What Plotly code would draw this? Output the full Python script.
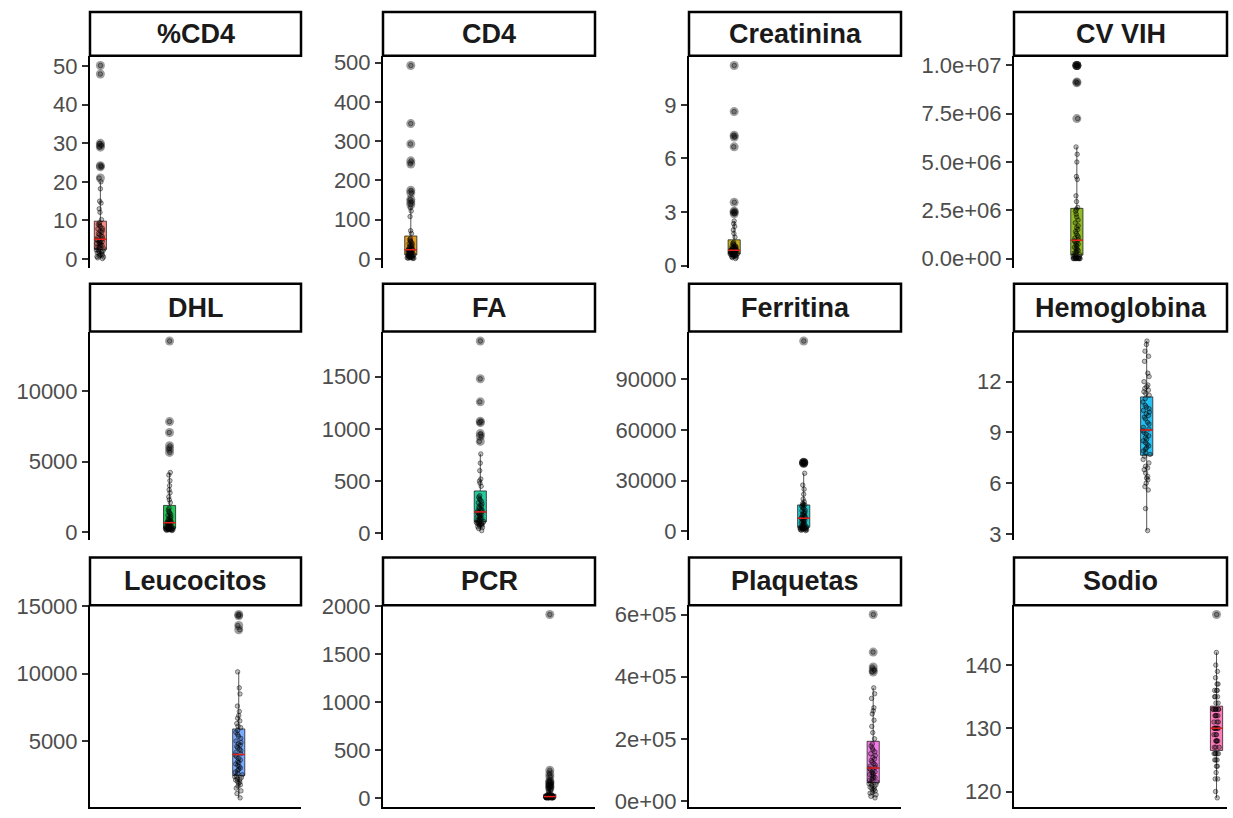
import numpy as np
import plotly.graph_objects as go

# ---------------- data ----------------
panel_names = ["%CD4", "CD4", "Creatinina", "CV VIH", "DHL", "FA",
               "Ferritina", "Hemoglobina", "Leucocitos", "PCR", "Plaquetas", "Sodio"]

cd4_pct = [0.1, 0.3, 0.5, 0.6, 0.8, 1.0, 1.1, 1.3, 1.5, 1.6, 1.8, 2.0, 2.1, 2.3, 2.4,
           2.6, 2.8, 3.0, 3.2, 3.4, 3.5, 3.7, 3.9, 4.0, 4.2, 4.4, 4.5, 4.7, 4.8, 5.0,
           5.2, 5.5, 5.8, 6.0, 6.3, 6.6, 7.0, 7.2, 7.5, 7.8, 8.0, 8.4, 8.8, 9.0, 9.4,
           10.2, 12.1, 13.0, 14.5, 15.0, 18.2, 20.0, 21.0, 23.9, 24.2, 29.0, 29.5, 30.0, 48.0, 50.2]
cd4 = [1, 2, 2, 3, 3, 4, 4, 5, 5, 6, 7, 7, 8, 9, 10,
       11, 12, 13, 14, 14, 15, 16, 17, 18, 18, 19, 20, 21, 22, 23,
       24, 25, 27, 28, 30, 31, 33, 35, 37, 39, 41, 44, 46, 49, 52,
       65, 72, 108, 122, 130, 138, 145, 152, 168, 175, 242, 250, 293, 345, 493]
creatinina = [0.40, 0.45, 0.48, 0.50, 0.52, 0.55, 0.57, 0.58, 0.60, 0.61, 0.62, 0.63, 0.64, 0.65, 0.66,
              0.68, 0.70, 0.71, 0.73, 0.74, 0.75, 0.77, 0.78, 0.80, 0.81, 0.82, 0.83, 0.84, 0.85, 0.86,
              0.88, 0.90, 0.92, 0.94, 0.96, 0.98, 1.00, 1.03, 1.05, 1.08, 1.10, 1.15, 1.20, 1.25, 1.30,
              1.60, 1.80, 2.00, 2.20, 2.35, 2.50, 2.90, 3.00, 3.05, 3.55, 6.65, 7.20, 7.30, 8.62, 11.2]
cv_vih = [20, 40, 50, 80, 150, 400, 1000, 5000, 12000, 25000, 40000, 60000, 90000, 120000, 160000,
          200000, 240000, 280000, 330000, 380000, 420000, 480000, 530000, 590000, 640000,
          700000, 750000, 810000, 860000, 920000,
          980000, 1050000, 1120000, 1200000, 1300000, 1400000, 1500000, 1600000, 1700000,
          1850000, 2000000, 2150000, 2300000, 2450000, 2550000,
          2650000, 2950000, 3250000, 4100000, 4250000, 5000000, 5400000, 5780000, 7250000,
          9100000, 9150000, 10000000, 10000000, 10000000, 10000000]
dhl = [120, 140, 160, 170, 180, 190, 200, 210, 220, 230, 240, 250, 260, 270, 280,
       300, 320, 340, 360, 380, 400, 430, 460, 490, 520, 550, 580, 610, 640, 660,
       690, 730, 770, 820, 870, 920, 980, 1050, 1120, 1200, 1280, 1370, 1460, 1580, 1700,
       2100, 2300, 2500, 2800, 3000, 3300, 3650, 4050, 4230, 5650, 5900, 6120, 7060, 7830, 13530]
fa = [25, 45, 55, 62, 70, 75, 80, 85, 88, 92, 95, 98, 100, 104, 108,
      112, 118, 124, 130, 136, 142, 148, 155, 162, 168, 175, 182, 188, 195, 200,
      208, 215, 222, 230, 240, 250, 260, 270, 280, 292, 305, 318, 330, 345, 360,
      450, 480, 500, 520, 600, 672, 760, 880, 930, 955, 1060, 1074, 1260, 1481, 1843]
ferritina = [500, 700, 900, 1100, 1200, 1400, 1500, 1600, 1700, 1800, 1900, 2000, 2100, 2200, 2350,
             2600, 2900, 3200, 3500, 3900, 4200, 4600, 5000, 5400, 5800, 6200, 6600, 7000, 7300, 7650,
             8000, 8400, 8800, 9200, 9600, 10000, 10500, 11000, 11600, 12200, 12800, 13500, 14200,
             14900, 15500,
             15800, 16000, 16500, 17500, 19100, 22000, 25000, 27400, 34400, 40200, 40500, 40700,
             40800, 41000, 112650]
hemoglobina = [3.2, 4.5, 5.6, 5.8, 6.0, 6.2, 6.3, 6.4, 6.6, 6.8, 6.9, 7.0, 7.2, 7.4, 7.6, 7.7,
               7.8, 7.9, 8.0, 8.1, 8.2, 8.3, 8.4, 8.5, 8.6, 8.7, 8.8, 8.9, 9.0, 9.1, 9.2,
               9.3, 9.5, 9.6, 9.8, 9.9, 10.0, 10.1, 10.2, 10.3, 10.4, 10.5, 10.6, 10.8, 11.0, 11.2,
               11.3, 11.4, 11.5, 11.6, 11.7, 11.8, 12.0, 12.3, 12.5, 13.2, 13.5, 13.8, 14.2, 14.4]
leucocitos = [780, 1100, 1300, 1500, 1650, 1750, 1850, 1950, 2000, 2100, 2150, 2200, 2300, 2350, 2400,
              2500, 2600, 2700, 2800, 2900, 3000, 3100, 3200, 3300, 3400, 3500, 3600, 3700, 3850, 3950,
              4050, 4150, 4300, 4400, 4500, 4600, 4700, 4800, 4900, 5000, 5200, 5350, 5500, 5650, 5800,
              6000, 6100, 6300, 6500, 6700, 6900, 7200, 7600, 8500, 8950, 10140, 13270, 13580, 14300, 14400]
pcr = [0.5, 0.8, 1.0, 1.2, 1.5, 1.8, 2.0, 2.2, 2.5, 2.8, 3.0, 3.2, 3.5, 3.8, 4.0,
       4.5, 5.0, 5.5, 6.0, 6.5, 7.0, 7.5, 8.0, 8.5, 9.0, 9.5, 10, 11, 12, 13,
       14, 15, 16, 17, 18, 19, 20, 21, 22, 24, 26, 28, 30, 32, 35,
       40, 52, 65, 80, 95, 110, 120, 135, 150, 170, 175, 220, 250, 290, 1916]
plaquetas = [10000, 15000, 20000, 25000, 28000, 32000, 35000, 38000, 41000, 44000, 47000, 50000,
             52000, 55000, 58000,
             61000, 64000, 67000, 70000, 73000, 76000, 79000, 82000, 85000, 88000, 91000, 94000,
             97000, 100000, 104000,
             108000, 112000, 116000, 120000, 125000, 130000, 135000, 140000, 146000, 152000, 158000,
             164000, 170000, 177000, 184000,
             200000, 220000, 240000, 260000, 280000, 290000, 300000, 330000, 345000, 364000,
             415000, 421000, 431000, 479000, 600000]
sodio = [119, 120, 122, 122, 123, 124, 124, 125, 125, 125, 126, 126, 126, 126, 126,
         127, 127, 127, 128, 128, 128, 128, 129, 129, 129, 130, 130, 130, 130, 130,
         130, 131, 131, 131, 132, 132, 132, 132, 133, 133, 133, 133, 133, 133, 133,
         134, 134, 135, 135, 135, 136, 136, 136, 137, 137, 138, 139, 140, 142, 148]

panel_values = [cd4_pct, cd4, creatinina, cv_vih, dhl, fa,
                ferritina, hemoglobina, leucocitos, pcr, plaquetas, sodio]

tick_vals = [
    [0, 10, 20, 30, 40, 50],
    [0, 100, 200, 300, 400, 500],
    [0, 3, 6, 9],
    [0, 2.5e6, 5e6, 7.5e6, 1e7],
    [0, 5000, 10000],
    [0, 500, 1000, 1500],
    [0, 30000, 60000, 90000],
    [3, 6, 9, 12],
    [5000, 10000, 15000],
    [0, 500, 1000, 1500, 2000],
    [0, 2e5, 4e5, 6e5],
    [120, 130, 140],
]
tick_text = [
    ["0", "10", "20", "30", "40", "50"],
    ["0", "100", "200", "300", "400", "500"],
    ["0", "3", "6", "9"],
    ["0.0e+00", "2.5e+06", "5.0e+06", "7.5e+06", "1.0e+07"],
    ["0", "5000", "10000"],
    ["0", "500", "1000", "1500"],
    ["0", "30000", "60000", "90000"],
    ["3", "6", "9", "12"],
    ["5000", "10000", "15000"],
    ["0", "500", "1000", "1500", "2000"],
    ["0e+00", "2e+05", "4e+05", "6e+05"],
    ["120", "130", "140"],
]

hue_colors = ["#F8766D", "#DE8C00", "#B79F00", "#7CAE00", "#00BA38", "#00C08B",
              "#00BFC4", "#00B4F0", "#619CFF", "#C77CFF", "#F564E3", "#FF64B0"]

# ---------------- layout geometry (pixels) ----------------
W, H = 1233, 818
col_left = [90, 383, 689, 1014]
col_right = [301, 595, 901, 1227]
strip_top = [1, 280, 561]
strip_bot = [46, 329, 610]
panel_bot = [264, 543, 817]
BOX_W = 0.7
FONT = "Liberation Sans, Arial, sans-serif"


def hex_rgba(h, a):
    h = h.lstrip("#")
    return "rgba(%d,%d,%d,%.2f)" % (int(h[0:2], 16), int(h[2:4], 16), int(h[4:6], 16), a)


fig = go.Figure()
shapes = []
annotations = []
layout_axes = {}

for i, (name, vals) in enumerate(zip(panel_names, panel_values)):
    r, c = divmod(i, 4)
    n = i + 1
    xa = "x" if n == 1 else "x%d" % n
    ya = "y" if n == 1 else "y%d" % n
    pos = i + 1
    v = np.array(vals, dtype=float)

    fig.add_trace(go.Box(
        y=v, x0=pos, width=BOX_W, xaxis=xa, yaxis=ya,
        boxpoints="outliers", whiskerwidth=0, quartilemethod="inclusive",
        fillcolor=hex_rgba(hue_colors[i], 0.85),
        line=dict(color="rgba(20,20,20,0.9)", width=0.8),
        marker=dict(color="rgba(0,0,0,0.38)", size=9, line=dict(width=0)),
        showlegend=False, hoverinfo="skip"))
    med = float(np.median(v))
    fig.add_trace(go.Scatter(
        x=[pos - BOX_W / 2, pos + BOX_W / 2], y=[med, med], mode="lines",
        line=dict(color="#E8201A", width=1.5), xaxis=xa, yaxis=ya,
        showlegend=False, hoverinfo="skip"))
    fig.add_trace(go.Box(
        y=v, x0=pos, width=BOX_W, xaxis=xa, yaxis=ya,
        boxpoints="all", jitter=0.7, pointpos=0,
        fillcolor="rgba(0,0,0,0)", line=dict(color="rgba(0,0,0,0)", width=0),
        marker=dict(color="rgba(0,0,0,0.25)", size=4.5,
                    line=dict(width=0.8, color="rgba(0,0,0,0.55)")),
        showlegend=False, hoverinfo="skip"))

    vmin, vmax = v.min(), v.max()
    pad = 0.05 * (vmax - vmin)
    x_dom = [col_left[c] / W, col_right[c] / W]
    y_dom = [1 - panel_bot[r] / H, 1 - strip_bot[r] / H]

    layout_axes["xaxis" if n == 1 else "xaxis%d" % n] = dict(
        domain=x_dom, range=[0.4, 12.6], anchor=ya,
        showticklabels=False, showgrid=False, zeroline=False, ticks="",
        showline=(r == 2), linecolor="black", linewidth=2, fixedrange=True)
    layout_axes["yaxis" if n == 1 else "yaxis%d" % n] = dict(
        domain=y_dom, range=[vmin - pad, vmax + pad], anchor=xa,
        tickmode="array", tickvals=tick_vals[i], ticktext=tick_text[i],
        showgrid=False, zeroline=False, showline=True, linecolor="black", linewidth=2,
        ticks="outside", ticklen=6, tickwidth=1.5, tickcolor="#333333",
        tickfont=dict(family=FONT, size=22, color="#4D4D4D"), fixedrange=True)

    shapes.append(dict(type="rect", xref="paper", yref="paper",
                       x0=col_left[c] / W, x1=col_right[c] / W,
                       y0=1 - strip_bot[r] / H, y1=1 - strip_top[r] / H,
                       line=dict(color="black", width=2.5), fillcolor="white", layer="above"))
    annotations.append(dict(xref="paper", yref="paper",
                            x=(col_left[c] + col_right[c]) / 2 / W,
                            y=1 - (strip_top[r] + strip_bot[r]) / 2 / H,
                            xanchor="center", yanchor="middle", showarrow=False,
                            text="<b>%s</b>" % name,
                            font=dict(family=FONT, size=27, color="#1A1A1A")))

fig.update_layout(
    width=W, height=H, margin=dict(l=0, r=0, t=0, b=0),
    paper_bgcolor="white", plot_bgcolor="white",
    boxmode="overlay", showlegend=False,
    shapes=shapes, annotations=annotations, **layout_axes)

fig.write_html("out.html", config={"displayModeBar": False},
               post_script="document.body.style.margin='0';document.body.style.overflow='hidden';")
